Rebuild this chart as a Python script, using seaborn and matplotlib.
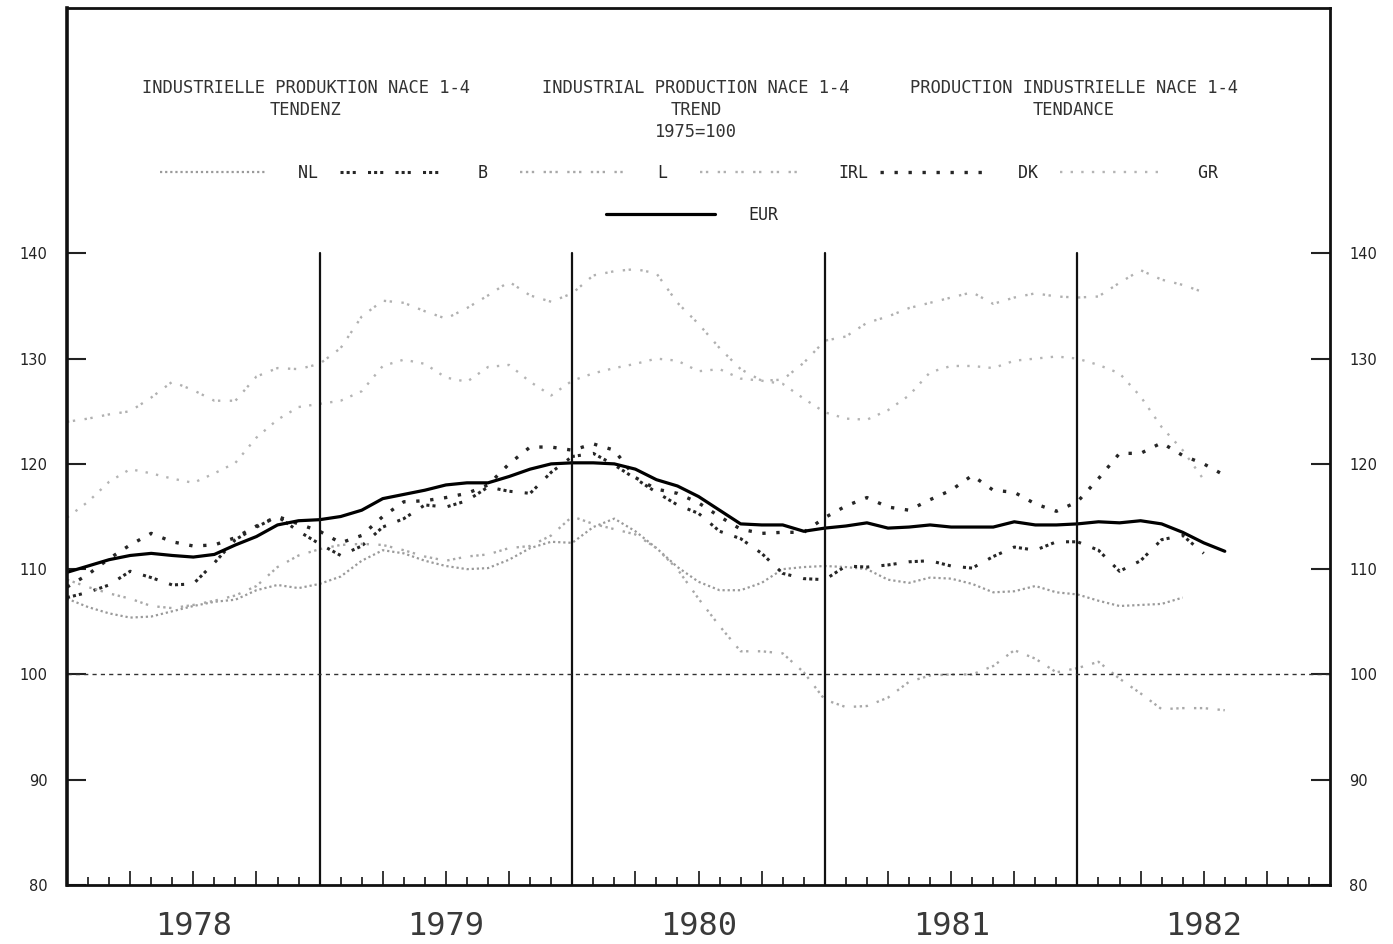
import numpy as np
import pandas as pd
import matplotlib
matplotlib.use("Agg")
import matplotlib.pyplot as plt
from matplotlib.ticker import FixedLocator
import seaborn as sns

# monthly index, 0 = Jan 1978
months = np.arange(56)
years = ["1978", "1979", "1980", "1981", "1982"]

EUR = [109.7, 110.3, 110.9, 111.3, 111.5, 111.3, 111.15, 111.4, 112.3, 113.1, 114.2, 114.6,
       114.7, 115.0, 115.6, 116.7, 117.1, 117.5, 118.0, 118.2, 118.2, 118.8, 119.5, 120.0,
       120.1, 120.1, 120.0, 119.5, 118.5, 117.9, 116.9, 115.6, 114.3, 114.2, 114.2, 113.6,
       113.9, 114.1, 114.4, 113.9, 114.0, 114.2, 114.0, 114.0, 114.0, 114.5, 114.2, 114.2,
       114.3, 114.5, 114.4, 114.6, 114.3, 113.5, 112.5, 111.7]
DK = [108.3, 109.5, 111.0, 112.3, 113.4, 112.6, 112.2, 112.3, 113.0, 114.1, 115.0, 114.3,
      113.6, 112.5, 113.2, 115.0, 116.4, 116.5, 116.8, 117.2, 118.0, 120.0, 121.6, 121.6,
      121.3, 121.9, 121.3, 118.7, 117.6, 117.2, 116.3, 115.0, 113.8, 113.4, 113.5, 113.5,
      114.9, 116.0, 116.8, 115.9, 115.6, 116.6, 117.5, 118.9, 117.5, 117.3, 116.2, 115.5,
      116.4, 118.6, 121.0, 121.0, 122.0, 120.8, 120.0, 118.9]
B = [107.3, 107.8, 108.5, 109.8, 109.2, 108.5, 108.6, 110.6, 112.8, 114.0, 115.0, 113.6,
     112.4, 111.3, 112.2, 114.0, 114.8, 116.1, 115.9, 116.5, 117.8, 117.4, 117.2, 119.2,
     120.7, 121.0, 119.9, 118.6, 117.3, 116.1, 115.3, 113.6, 112.9, 111.5, 109.6, 109.1,
     109.0, 110.3, 110.2, 110.4, 110.7, 110.8, 110.3, 110.1, 111.2, 112.1, 111.8, 112.6,
     112.6, 111.8, 109.8, 110.8, 112.8, 113.2, 111.5, None]
IRL = [124.0, 124.3, 124.7, 125.0, 126.3, 127.8, 127.0, 126.0, 126.0, 128.3, 129.1, 129.0,
       129.5, 131.0, 134.0, 135.5, 135.3, 134.5, 133.8, 134.8, 136.0, 137.3, 136.0, 135.4,
       136.2, 137.9, 138.3, 138.5, 138.1, 135.3, 133.3, 131.0, 129.0, 127.9, 128.0, 129.6,
       131.7, 132.1, 133.4, 134.0, 134.8, 135.3, 135.8, 136.3, 135.2, 135.8, 136.2, 135.9,
       135.8, 135.9, 137.2, 138.4, 137.5, 137.0, 136.3, None]
GR = [114.9, 116.4, 118.3, 119.5, 119.1, 118.6, 118.2, 119.1, 120.1, 122.5, 124.2, 125.4,
      125.7, 126.0, 126.9, 129.3, 129.9, 129.5, 128.2, 127.8, 129.2, 129.4, 127.8, 126.5,
      127.9, 128.6, 129.1, 129.5, 130.0, 129.8, 128.8, 129.0, 128.1, 127.9, 127.6, 126.2,
      124.9, 124.3, 124.2, 125.1, 126.5, 128.7, 129.3, 129.3, 129.1, 129.8, 130.0, 130.2,
      130.0, 129.4, 128.6, 126.4, 123.5, 121.3, 118.5, None]
NL = [107.2, 106.4, 105.8, 105.4, 105.5, 106.0, 106.5, 106.9, 107.1, 108.0, 108.5, 108.2,
      108.6, 109.3, 110.8, 111.8, 111.5, 110.8, 110.3, 110.0, 110.1, 110.9, 112.0, 112.6,
      112.5, 114.0, 114.8, 113.6, 112.0, 110.2, 108.8, 108.0, 108.0, 108.7, 110.0, 110.2,
      110.3, 110.2, 110.0, 109.0, 108.7, 109.2, 109.1, 108.6, 107.8, 107.9, 108.4, 107.8,
      107.6, 107.0, 106.5, 106.6, 106.7, 107.3, None, None]
L = [109.0, 108.3, 107.7, 107.2, 106.5, 106.3, 106.6, 107.0, 107.5, 108.4, 110.2, 111.3,
     111.9, 112.3, 112.4, 112.3, 111.8, 111.2, 110.8, 111.2, 111.4, 112.0, 112.2, 113.2,
     115.0, 114.3, 113.8, 113.3, 112.0, 110.0, 107.2, 104.6, 102.2, 102.2, 102.0, 100.2,
     97.6, 96.9, 97.0, 97.8, 99.3, 99.9, 100.0, 100.0, 100.8, 102.3, 101.5, 100.2,
     100.6, 101.2, 99.6, 98.2, 96.7, 96.8, 96.8, 96.6]

titles = ["INDUSTRIELLE PRODUKTION NACE 1-4\nTENDENZ",
          "INDUSTRIAL PRODUCTION NACE 1-4\nTREND\n1975=100",
          "PRODUCTION INDUSTRIELLE NACE 1-4\nTENDANCE"]

sns.set_style("ticks")
plt.rcParams["font.family"] = ["DejaVu Sans Mono", "DejaVu Sans"]

fig = plt.figure(figsize=(13.93, 9.44), dpi=100)
ax = fig.add_axes([0.0481, 0.0625, 0.9067, 0.929])

# style per series: (values, colour, width, dash pattern)
styles = {
    "NL ": (NL, "#9a9a9a", 1.6, (1.0, 1.3)),
    "B  ": (B, "#262626", 2.2, (1.0, 1.0, 1.0, 1.0, 1.0, 4.0)),
    "L  ": (L, "#a8a8a8", 1.7, (1.0, 1.5, 1.0, 1.5, 1.0, 4.0)),
    "IRL": (IRL, "#b0b0b0", 1.7, (1.0, 1.5, 1.0, 4.0)),
    "DK ": (DK, "#262626", 2.4, (1.0, 3.2)),
    "GR ": (GR, "#b4b4b4", 1.7, (1.0, 3.5)),
}

handles = []
for name, (vals, col, lw, dash) in styles.items():
    df = pd.DataFrame({"m": months, "v": np.array(vals, dtype=float)}).dropna()
    sns.lineplot(data=df, x="m", y="v", ax=ax, color=col, linewidth=lw,
                 linestyle=(0, dash), errorbar=None, label=name)
    handles.append(ax.lines[-1])

df_eur = pd.DataFrame({"m": months, "v": EUR})
sns.lineplot(data=df_eur, x="m", y="v", ax=ax, color="black", linewidth=2.3,
             errorbar=None, label="EUR")
eur_line = ax.lines[-1]

# year separators and the 100 reference
for yb in [12, 24, 36, 48]:
    ax.plot([yb, yb], [80, 140], color="#111111", lw=1.6)
ax.axhline(100, color="#333333", lw=1.0, linestyle=(0, (3, 3)))

ax.set_xlim(0, 60)
ax.set_ylim(80, 163.3)
ax.set_xlabel("")
ax.set_ylabel("")

# y ticks both sides, pointing in
ax.set_yticks([80, 90, 100, 110, 120, 130, 140])
ax.tick_params(axis="y", which="major", direction="in", length=14, width=1.5,
               left=True, right=True, labelleft=True, labelright=True,
               pad=14, labelsize=10.5, colors="#222222")
for t in ax.get_yticklabels():
    t.set_family("DejaVu Sans")

# x: quarter ticks (long), month ticks (short), year names under mid-year
major = [y * 12 + q for y in range(5) for q in (3, 6, 9)]
minor = [y * 12 + m for y in range(5) for m in (1, 2, 4, 5, 7, 8, 10, 11)]
ax.xaxis.set_major_locator(FixedLocator(major))
ax.xaxis.set_minor_locator(FixedLocator(minor))
ax.set_xticklabels([years[i // 3] if i % 3 == 1 else "" for i in range(len(major))])
ax.tick_params(axis="x", which="major", direction="in", length=10, width=1.3,
               pad=19, labelsize=23, labelcolor="#3a3a3a")
ax.tick_params(axis="x", which="minor", direction="in", length=6, width=1.3)

for s in ax.spines.values():
    s.set_visible(True)
    s.set_linewidth(2.0)
    s.set_color("#111111")
ax.spines["left"].set_linewidth(2.6)

for xt, txt in zip([0.1892, 0.498, 0.7973], titles):
    ax.text(xt, 0.9185, txt, transform=ax.transAxes, ha="center", va="top",
            fontsize=12.3, color="#333333", linespacing=1.27)

leg1 = ax.legend(handles=handles, labels=list(styles.keys()), ncol=6,
                 loc="center", bbox_to_anchor=(0.4964, 0.812), frameon=False,
                 handlelength=6.3, handletextpad=2.0, columnspacing=0.7,
                 borderpad=0, borderaxespad=0, prop={"family": "DejaVu Sans Mono", "size": 12})
ax.add_artist(leg1)
ax.legend(handles=[eur_line], labels=["EUR"], loc="center",
          bbox_to_anchor=(0.4949, 0.764), frameon=False, handlelength=6.5,
          handletextpad=2.0, borderpad=0, borderaxespad=0,
          prop={"family": "DejaVu Sans Mono", "size": 12})

fig.savefig("out.png", dpi=100, facecolor="white")
